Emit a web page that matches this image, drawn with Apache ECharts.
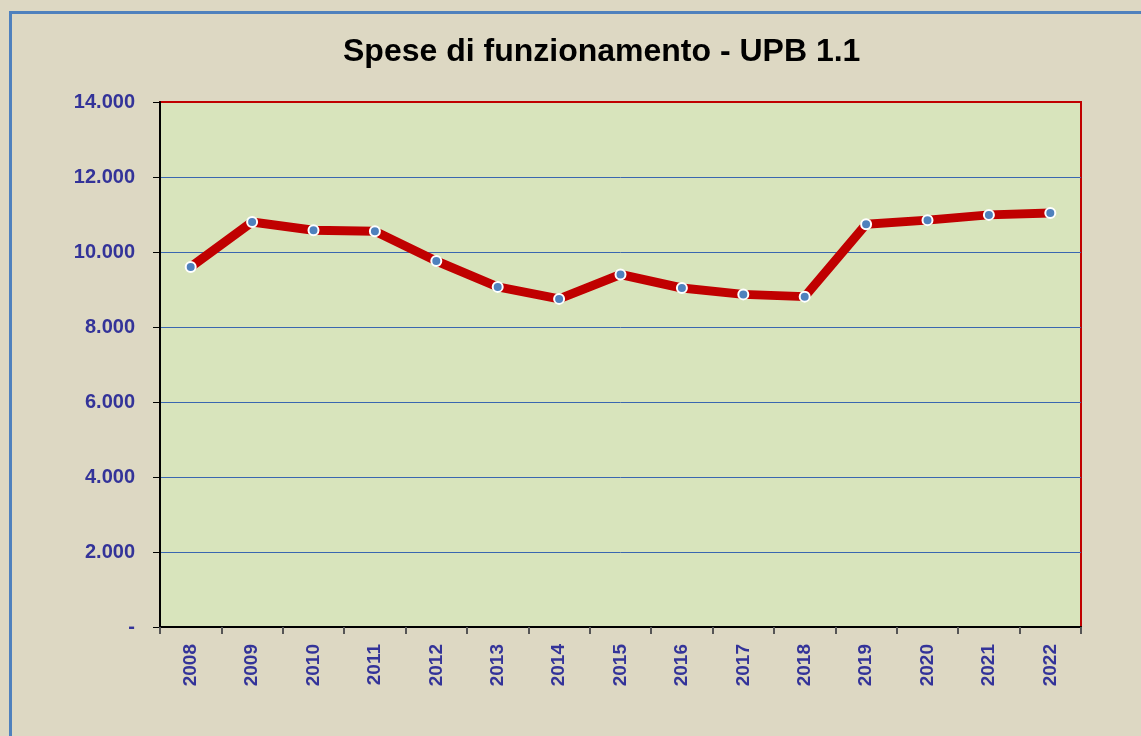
<!DOCTYPE html>
<html><head><meta charset="utf-8">
<script src="https://cdn.jsdelivr.net/npm/echarts@6/dist/echarts.min.js"></script>
<style>html,body{margin:0;padding:0;background:#DDD8C3;}#c{width:1141px;height:736px;}</style>
</head><body><div id="c"></div>
<script>
const title = 'Spese di funzionamento - UPB 1.1';
const years = ['2008','2009','2010','2011','2012','2013','2014','2015','2016','2017','2018','2019','2020','2021','2022'];
const spese = [9600, 10800, 10580, 10555, 9760, 9070, 8750, 9400, 9040, 8870, 8810, 10740, 10850, 10990, 11040];
const yTicks = [0, 2000, 4000, 6000, 8000, 10000, 12000, 14000];

const fmt = v => v === 0 ? '-' : String(v).replace(/\B(?=(\d{3})+(?!\d))/g, '.');
const chart = echarts.init(document.getElementById('c'));
const axisFont = {color:'#333399', fontWeight:'bold', fontFamily:'Liberation Sans, Arial, sans-serif', fontSize:19};
const gl = '#3A66B0';
chart.setOption({
  backgroundColor:'#DDD8C3',
  animation:false,
  graphic:[
    {type:'line', shape:{x1:10.5,y1:12.5,x2:1141,y2:12.5}, style:{stroke:'#4F81BD', lineWidth:3}, silent:true},
    {type:'line', shape:{x1:10.5,y1:11,x2:10.5,y2:736}, style:{stroke:'#4F81BD', lineWidth:3}, silent:true}
  ],
  title:{text:title, left:338, top:31, textStyle:{fontFamily:'Liberation Sans, Arial, sans-serif', fontWeight:'bold', fontSize:32, color:'#000'}},
  grid:{left:160, right:60, top:102, bottom:109, show:true, backgroundColor:'#D8E4BC', borderColor:'#C00000', borderWidth:2},
  xAxis:{type:'category', data:years, boundaryGap:true,
    axisLine:{lineStyle:{color:'#000', width:2}},
    axisTick:{show:true, length:7, lineStyle:{color:'#555', width:2}},
    axisLabel:Object.assign({rotate:90, margin:17}, axisFont)},
  yAxis:{type:'value', min:yTicks[0], max:yTicks[yTicks.length-1], interval:2000,
    axisLine:{show:true, lineStyle:{color:'#000', width:2}},
    axisTick:{show:true, length:7, lineStyle:{color:'#000', width:1}},
    axisLabel:Object.assign({}, axisFont, {margin:25, fontSize:20, formatter:fmt}),
    splitLine:{show:true, lineStyle:{color:[gl,gl,gl,gl,gl,gl,gl,'#C00000'], width:1}}},
  series:[{type:'line', data:spese, lineStyle:{color:'#C00000', width:9},
    symbol:'circle', symbolSize:10,
    itemStyle:{color:'#4F81BD', borderColor:'#fff', borderWidth:2}}]
});
</script></body></html>
